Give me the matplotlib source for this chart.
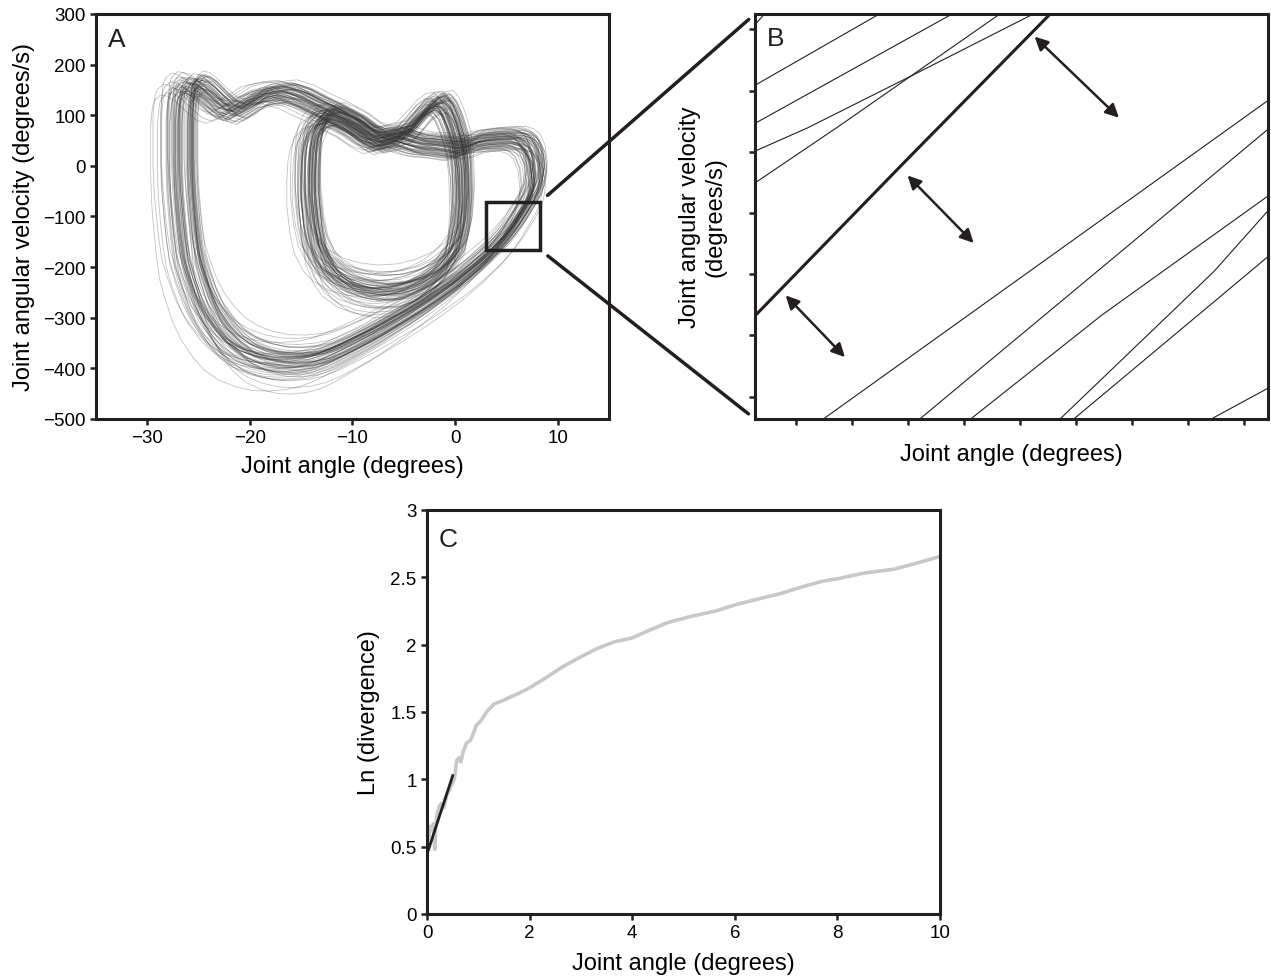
import matplotlib
matplotlib.use("Agg")
import matplotlib.pyplot as plt
from matplotlib.patches import Rectangle, ConnectionPatch
from matplotlib.ticker import FuncFormatter
import numpy as np

plt.rcParams['font.family'] = ['Liberation Sans', 'DejaVu Sans']

INK = '#231f20'

# ---- panel A: mean gait cycle in the phase plane (angle, velocity) ----
# first pass along the upper band
TOP_X = [-26.3, -25.8, -25.2, -24.5, -23.5, -22.5, -21.6, -20.5, -19.3, -18.0, -16.6, -15.0,
         -13.5, -11.5, -9.7, -8.5, -7.4, -6.0, -4.8, -3.8, -2.9, -2.1, -1.4, -0.8, -0.2, 0.3]
TOP_Y = [152, 162, 160, 150, 130, 112, 106, 118, 135, 142, 145, 135,
         119, 100, 80, 62, 53, 58, 66, 88, 110, 122, 124, 110, 80, 45]
# inner loop (down the right side, back up the left)
INNER_X = [0.6, 0.7, 0.5, 0.0, -1.2, -2.5, -3.9, -5.5, -7.4, -9.0, -10.5, -12.0,
           -12.8, -13.6, -14.0, -14.3, -14.3, -14.2, -14.0, -13.5, -12.8]
INNER_Y = [0, -65, -120, -165, -200, -222, -237, -247, -250, -245, -235, -215,
           -195, -160, -120, -60, -10, 30, 55, 80, 96]
# second pass along the upper band
MID_X = [-12.0, -11.0, -9.7, -8.5, -7.4, -6.5, -5.5, -4.5, -3.5, -2.0, 0.0, 1.0,
         1.9, 3.0, 4.1, 5.7, 6.5, 7.1, 7.6]
MID_Y = [100, 92, 78, 60, 46, 50, 55, 48, 42, 40, 34, 38,
         46, 50, 52, 53, 48, 38, 15]
# outer loop (diagonal down, bottom, left side up)
OUTER_X = [7.8, 7.6, 7.2, 6.5, 5.7, 4.8, 3.8, 2.0, 0.0, -2.0, -3.9, -6.0, -7.8, -9.8,
           -11.6, -13.0, -14.3, -15.9, -17.4, -19.0, -20.5, -21.8, -22.8, -23.9, -24.7,
           -25.4, -25.9, -26.2, -26.4, -26.6, -26.7, -26.7, -26.7, -26.6, -26.5, -26.3]
OUTER_Y = [-20, -45, -66, -90, -116, -140, -163, -197, -230, -258, -283, -308, -329, -350,
           -368, -379, -385, -388, -387, -380, -368, -350, -328, -296, -262,
           -220, -184, -140, -99, -50, 0, 50, 99, 125, 142, 152]

# cycle-to-cycle variation (estimated spread of the bundle)
CYCLE_SX = [1.00, 0.97, 1.04, 1.02, 0.94, 1.06, 0.99, 1.01, 0.98, 1.03,
            0.96, 1.05, 1.00, 0.93, 1.02, 0.99, 1.07, 0.97, 1.01, 1.03,
            0.98, 1.00, 1.04, 0.95, 1.02, 0.99, 1.05, 0.97, 1.01, 0.95,
            1.03, 1.00, 0.98, 1.06, 1.02, 0.96, 1.01, 0.99, 1.04, 0.96,
            1.00, 1.03, 0.98, 1.08, 1.01, 0.94, 1.02, 0.97, 1.05, 0.99,
            1.03, 0.96, 1.00, 1.06, 0.98, 1.02, 0.95, 1.04, 1.01, 0.97,
            1.00, 1.03, 0.99, 1.05, 0.96, 1.02, 0.98, 1.07, 1.01, 0.97]
CYCLE_DX = [0.0, 0.6, -0.4, 0.9, -0.8, 0.3, -0.2, 1.1, -0.9, 0.5,
            0.1, -0.6, 0.7, -0.3, 0.0, 1.0, -1.1, 0.3, -0.5, 0.6,
            0.8, -0.7, 0.2, -0.1, 0.4, -0.9, 0.0, 0.7, -0.3, 0.3,
            -0.6, 0.9, 0.1, -0.4, 0.6, -0.2, 0.4, -0.8, 0.3, 0.0,
            1.0, -0.3, 0.5, -0.6, 0.2, -1.0, 0.8, -0.1, 0.4, -0.5,
            0.6, -0.2, 1.2, -0.7, 0.1, 0.3, -0.4, 0.7, -0.9, 0.2,
            0.5, -0.3, 0.9, -0.6, 0.0, 0.4, -1.2, 0.6, -0.2, 0.3]
CYCLE_DY = [0, 14, -10, 6, -20, 24, -5, 11, -15, 3,
            19, -8, 8, -13, 2, 17, -22, 7, -4, 12,
            -11, 5, 22, -17, 1, 10, -6, 15, -14, 6,
            -2, 18, -9, 4, -19, 11, 0, -10, 13, -5,
            7, -16, 16, -1, 9, -24, 20, -7, 3, -12,
            12, -3, 25, -18, 5, -8, 14, -21, 8, -1,
            10, -14, 4, 21, -9, 2, -18, 13, -6, 0]
CYCLE_SO = [1.00, 0.96, 1.05, 1.02, 0.92, 1.08, 0.98, 1.03, 0.95, 1.06,
            0.99, 1.01, 0.93, 1.04, 1.00, 0.97, 1.09, 0.94, 1.02, 1.05,
            0.98, 1.00, 1.07, 0.96, 1.03, 0.99, 1.04, 0.90, 1.01, 0.97,
            1.06, 1.00, 0.95, 1.02, 1.08, 0.98, 1.03, 0.96, 1.01, 1.05,
            0.99, 0.94, 1.04, 1.00, 0.97, 1.10, 0.93, 1.02, 0.98, 1.06,
            1.01, 0.95, 1.03, 0.99, 1.07, 0.96, 1.00, 1.04, 0.92, 1.02,
            0.98, 1.05, 0.97, 1.01, 0.94, 1.03, 1.00, 1.08, 0.96, 1.02]
CYCLE_SI = [1.00, 0.92, 1.08, 0.96, 1.12, 0.88, 1.04, 0.98, 1.10, 0.85,
            1.02, 0.94, 1.06, 0.90, 1.14, 1.00, 0.95, 1.07, 0.89, 1.03,
            0.97, 1.11, 0.93, 1.05, 0.87, 1.01, 0.99, 1.09, 0.91, 1.04,
            0.96, 1.13, 0.94, 1.02, 0.86, 1.06, 1.00, 0.92, 1.08, 0.97,
            1.03, 0.90, 1.05, 0.98, 1.16, 0.93, 1.01, 0.88, 1.07, 0.95,
            1.10, 0.96, 1.02, 0.84, 1.04, 0.99, 1.12, 0.91, 1.06, 0.97,
            1.00, 0.89, 1.08, 0.94, 1.03, 0.96, 1.11, 0.92, 1.05, 0.98]

ZOOM_X = (3.0, 8.3)
ZOOM_Y = (-166, -71)

# ---- panel B: close-up of neighbouring trajectories ----
B_REF_X = [-0.742, 1.9, 4.55]
B_REF_Y = [1.32, 3.80, 6.26]
B_THIN = [
    ([-0.71, -0.56], [6.11, 6.26]),
    ([-0.742, 1.503], [5.085, 6.26]),
    ([-0.742, 2.805], [4.463, 6.26]),
    ([-0.742, 0.2, 2.079, 4.26], [4.01, 4.39, 5.25, 6.26]),
    ([-0.742, 0.807, 3.655], [3.49, 4.447, 6.26]),
    ([0.474, 8.44], [-0.37, 4.84]),
    ([2.2, 8.44], [-0.37, 4.37]),
    ([3.11, 5.47, 8.44], [-0.37, 1.337, 3.28]),
    ([4.71, 7.47, 8.44], [-0.37, 2.046, 3.04]),
    ([4.955, 8.44], [-0.37, 2.29]),
    ([7.41, 8.44], [-0.37, 0.14]),
]
B_ARROWS = [((4.26, 5.88), (5.77, 4.556)),
            ((1.987, 3.612), (3.17, 2.51)),
            ((-0.193, 1.653), (0.868, 0.645))]

# ---- panel C: divergence curve ----
C_X = [0, 0, 0.03, 0.06, 0.09, 0.12, 0.15, 0.17, 0.2, 0.24, 0.28, 0.33, 0.38, 0.43, 0.48,
       0.53, 0.58, 0.62, 0.66, 0.70, 0.77, 0.85, 0.96, 1.06, 1.16, 1.31, 1.45, 1.62, 1.8,
       2.0, 2.3, 2.62, 3.0, 3.31, 3.65, 4.0, 4.35, 4.7, 5.15, 5.63, 6.05, 6.47, 6.9, 7.32,
       7.7, 8.02, 8.5, 9.1, 9.5, 10.0]
C_Y = [0.28, 0.45, 0.55, 0.65, 0.62, 0.67, 0.48, 0.66, 0.75, 0.80, 0.82, 0.79, 0.88, 0.92, 0.96,
       1.0, 1.14, 1.16, 1.13, 1.2, 1.27, 1.29, 1.40, 1.44, 1.50, 1.56, 1.58, 1.61, 1.64,
       1.68, 1.75, 1.83, 1.91, 1.97, 2.02, 2.05, 2.11, 2.165, 2.21, 2.25, 2.30, 2.34, 2.38, 2.43,
       2.47, 2.49, 2.53, 2.56, 2.60, 2.655]
FIT_X = [0.0, 0.5]
FIT_Y = [0.445, 1.027]


def style(ax, labels=True):
    for s in ['left', 'bottom', 'right', 'top']:
        ax.spines[s].set_linewidth(2.2)
        ax.spines[s].set_color(INK)
    ax.tick_params(direction='out', length=4.5, width=1.8, color=INK,
                   labelsize=13.5, pad=3, top=False, right=False,
                   labelleft=labels, labelbottom=labels)


fig = plt.figure(figsize=(12.71, 9.79), dpi=100)
axA = fig.add_axes([0.0755, 0.571, 0.4036, 0.4137])
axB = fig.add_axes([0.594, 0.571, 0.4036, 0.4137])
axC = fig.add_axes([0.336, 0.0654, 0.4036, 0.4127])

# A
top_x, top_y = np.array(TOP_X), np.array(TOP_Y, float)
in_x, in_y = np.array(INNER_X), np.array(INNER_Y, float)
mid_x, mid_y = np.array(MID_X), np.array(MID_Y, float)
out_x, out_y = np.array(OUTER_X), np.array(OUTER_Y, float)
for sx, dx, dy, so, si in zip(CYCLE_SX, CYCLE_DX, CYCLE_DY, CYCLE_SO, CYCLE_SI):
    xs = np.concatenate([top_x, in_x, mid_x, out_x]) * sx + dx
    ys = np.concatenate([top_y,
                         np.where(in_y < 0, in_y * si, in_y),
                         mid_y,
                         np.where(out_y < 0, out_y * so, out_y)]) + dy
    axA.plot(xs, ys, color='#333333', lw=0.6, alpha=0.3, solid_joinstyle='round')

axA.add_patch(Rectangle((ZOOM_X[0], ZOOM_Y[0]), ZOOM_X[1] - ZOOM_X[0], ZOOM_Y[1] - ZOOM_Y[0],
                        fill=False, lw=2.5, ec=INK, zorder=5))
axA.set_xlim(-35, 15)
axA.set_ylim(-500, 300)
axA.set_xticks([-30, -20, -10, 0, 10])
axA.set_yticks(range(-500, 301, 100))
style(axA)
axA.set_xlabel('Joint angle (degrees)', fontsize=17)
axA.set_ylabel('Joint angular velocity (degrees/s)', fontsize=17)
axA.xaxis.set_label_coords(0.5, -0.088)
axA.yaxis.set_label_coords(-0.118, 0.5)
axA.text(0.023, 0.968, 'A', transform=axA.transAxes, fontsize=19, va='top', ha='left', color=INK)

# B
axB.plot(B_REF_X, B_REF_Y, color=INK, lw=2.2)
for bx, by in B_THIN:
    axB.plot(bx, by, color=INK, lw=0.8)
for p0, p1 in B_ARROWS:
    axB.annotate('', xy=p1, xytext=p0,
                 arrowprops=dict(arrowstyle='<|-|>', color=INK, lw=1.8,
                                 mutation_scale=20, shrinkA=0, shrinkB=0))
axB.set_xlim(-0.742, 8.435)
axB.set_ylim(-0.365, 6.25)
axB.set_xticks(range(9))
axB.set_yticks(range(7))
style(axB, labels=False)
axB.set_xlabel('Joint angle (degrees)', fontsize=17)
axB.set_ylabel('Joint angular velocity\n(degrees/s)', fontsize=17)
axB.xaxis.set_label_coords(0.5, -0.06)
axB.yaxis.set_label_coords(-0.055, 0.5)
axB.text(0.023, 0.97, 'B', transform=axB.transAxes, fontsize=19, va='top', ha='left', color=INK)

# zoom connectors
for ya, yb in [(ZOOM_Y[1], 1), (ZOOM_Y[0], 0)]:
    con = ConnectionPatch(xyA=(ZOOM_X[1], ya), coordsA=axA.transData,
                          xyB=(0, yb), coordsB=axB.transAxes,
                          color=INK, lw=2.5, shrinkA=7, shrinkB=6)
    fig.add_artist(con)

# C
axC.plot(C_X, C_Y, color='#c8c8c8', lw=2.6)
axC.plot(FIT_X, FIT_Y, color=INK, lw=2.0)
axC.set_xlim(0, 10)
axC.set_ylim(0, 3)
axC.set_xticks(range(0, 11, 2))
axC.set_yticks(np.arange(0, 3.01, 0.5))
axC.yaxis.set_major_formatter(FuncFormatter(lambda v, p: '%g' % v))
style(axC)
axC.set_xlabel('Joint angle (degrees)', fontsize=17)
axC.set_ylabel('Ln (divergence)', fontsize=17)
axC.xaxis.set_label_coords(0.5, -0.095)
axC.yaxis.set_label_coords(-0.092, 0.5)
axC.text(0.023, 0.958, 'C', transform=axC.transAxes, fontsize=19, va='top', ha='left', color=INK)

fig.savefig('out.png', dpi=100)
